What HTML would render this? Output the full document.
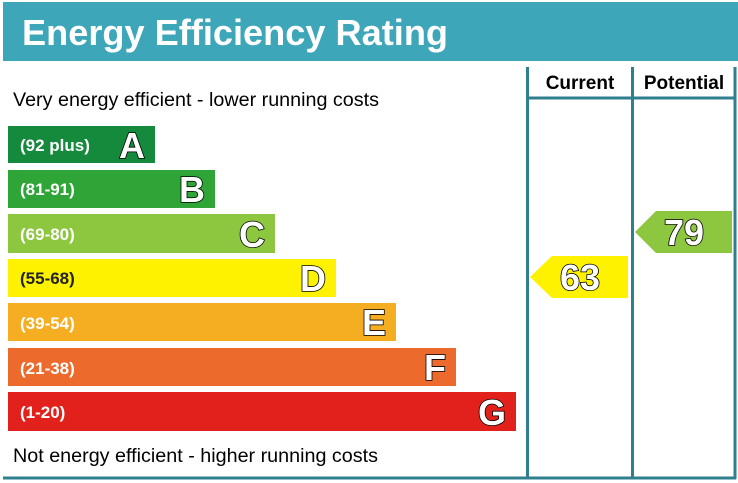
<!DOCTYPE html>
<html><head><style>
body{margin:0;background:#fff}
svg{display:block;font-family:"Liberation Sans",Arial,sans-serif}
.l{font-weight:bold;font-size:36px;fill:#fff;stroke:#000;stroke-width:1.6;paint-order:stroke}
.r{font-weight:bold;font-size:17px;fill:#fff}
</style></head><body>
<svg width="738" height="483" viewBox="0 0 738 483">
<rect x="3" y="2" width="735" height="59" fill="#3ea6b9"/>
<text x="22" y="45" font-size="36" font-weight="bold" fill="#fff" textLength="426" lengthAdjust="spacingAndGlyphs">Energy Efficiency Rating</text>
<g stroke="#2f7f8f" stroke-width="3" fill="none">
<line x1="527.5" y1="67" x2="527.5" y2="479"/>
<line x1="632.5" y1="67" x2="632.5" y2="479"/>
<line x1="735" y1="67" x2="735" y2="479"/>
<line x1="527" y1="98" x2="736" y2="98"/>
<line x1="3" y1="478" x2="736" y2="478"/>
</g>
<text x="580" y="89" font-size="19" font-weight="bold" text-anchor="middle">Current</text>
<text x="684" y="89" font-size="19" font-weight="bold" text-anchor="middle">Potential</text>
<text x="13" y="106" font-size="19" textLength="366" lengthAdjust="spacingAndGlyphs">Very energy efficient - lower running costs</text>
<text x="13" y="462" font-size="19" textLength="365" lengthAdjust="spacingAndGlyphs">Not energy efficient - higher running costs</text>
<rect x="8" y="126" width="147" height="37" fill="#158a3d"/>
<text class="r" x="20" y="151">(92 plus)</text><text class="l" x="145" y="158" text-anchor="end">A</text>
<rect x="8" y="170" width="207" height="38" fill="#2fa537"/>
<text class="r" x="20" y="195">(81-91)</text><text class="l" x="205" y="202" text-anchor="end">B</text>
<rect x="8" y="214" width="267" height="39" fill="#8dc63f"/>
<text class="r" x="20" y="240">(69-80)</text><text class="l" x="265" y="247" text-anchor="end">C</text>
<rect x="8" y="259" width="328" height="38" fill="#fff200"/>
<text class="r" x="20" y="284" style="fill:#222">(55-68)</text><text class="l" x="326" y="291" text-anchor="end">D</text>
<rect x="8" y="303" width="388" height="38" fill="#f5ae22"/>
<text class="r" x="20" y="329">(39-54)</text><text class="l" x="386" y="335" text-anchor="end">E</text>
<rect x="8" y="348" width="448" height="38" fill="#ec6a2b"/>
<text class="r" x="20" y="374">(21-38)</text><text class="l" x="446" y="380" text-anchor="end">F</text>
<rect x="8" y="392" width="508" height="39" fill="#e2211c"/>
<text class="r" x="20" y="418">(1-20)</text><text class="l" x="506" y="425" text-anchor="end">G</text>
<polygon points="530,277 552,256 628,256 628,298 552,298" fill="#fff200"/>
<text class="l" x="580" y="290" text-anchor="middle">63</text>
<polygon points="635,232 656,211 732,211 732,253 656,253" fill="#8dc63f"/>
<text class="l" x="684" y="245" text-anchor="middle">79</text>
</svg>
</body></html>
